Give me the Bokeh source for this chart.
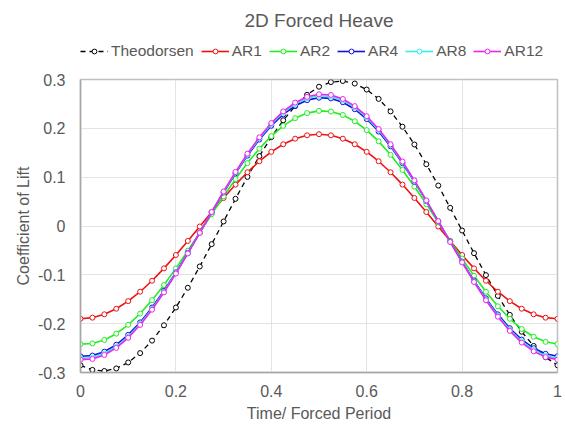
from bokeh.plotting import figure
from bokeh.layouts import column
from bokeh.models import Range1d, FixedTicker, Legend, LegendItem
from bokeh.embed import file_html
from bokeh.resources import INLINE

# ---------------- data ----------------
time = [0.0, 0.025, 0.05, 0.075, 0.1, 0.125, 0.15, 0.175, 0.2, 0.225,
        0.25, 0.275, 0.3, 0.325, 0.35, 0.375, 0.4, 0.425, 0.45, 0.475,
        0.5, 0.525, 0.55, 0.575, 0.6, 0.625, 0.65, 0.675, 0.7, 0.725,
        0.75, 0.775, 0.8, 0.825, 0.85, 0.875, 0.9, 0.925, 0.95, 0.975, 1.0]

theodorsen = [-0.2852, -0.2947, -0.2969, -0.2917, -0.2794, -0.2603, -0.2347, -0.2033, -0.1669, -0.1265,
              -0.0829, -0.0372, 0.0093, 0.0557, 0.1006, 0.1431, 0.1820, 0.2165, 0.2456, 0.2687,
              0.2852, 0.2947, 0.2969, 0.2917, 0.2794, 0.2603, 0.2347, 0.2033, 0.1669, 0.1265,
              0.0829, 0.0372, -0.0093, -0.0557, -0.1006, -0.1431, -0.1820, -0.2165, -0.2456, -0.2687,
              -0.2852]

ar1 = [-0.1900, -0.1877, -0.1808, -0.1694, -0.1539, -0.1346, -0.1121, -0.0868, -0.0594, -0.0306,
       -0.0010, 0.0286, 0.0574, 0.0848, 0.1101, 0.1326, 0.1519, 0.1674, 0.1788, 0.1857,
       0.1880, 0.1857, 0.1788, 0.1674, 0.1519, 0.1326, 0.1101, 0.0848, 0.0574, 0.0286,
       -0.0010, -0.0306, -0.0594, -0.0868, -0.1121, -0.1346, -0.1539, -0.1694, -0.1808, -0.1877,
       -0.1900]

ar2 = [-0.2418, -0.2405, -0.2333, -0.2205, -0.2023, -0.1793, -0.1518, -0.1208, -0.0868, -0.0507,
       -0.0135, 0.0240, 0.0608, 0.0960, 0.1288, 0.1584, 0.1840, 0.2050, 0.2208, 0.2312,
       0.2358, 0.2345, 0.2273, 0.2145, 0.1963, 0.1733, 0.1458, 0.1148, 0.0808, 0.0447,
       0.0075, -0.0300, -0.0668, -0.1020, -0.1348, -0.1644, -0.1900, -0.2110, -0.2268, -0.2372,
       -0.2418]

ar4 = [-0.2667, -0.2653, -0.2574, -0.2432, -0.2230, -0.1974, -0.1670, -0.1326, -0.0949, -0.0549,
       -0.0137, 0.0279, 0.0687, 0.1078, 0.1442, 0.1770, 0.2053, 0.2286, 0.2462, 0.2577,
       0.2627, 0.2613, 0.2534, 0.2392, 0.2190, 0.1934, 0.1630, 0.1286, 0.0909, 0.0509,
       0.0097, -0.0319, -0.0727, -0.1118, -0.1482, -0.1810, -0.2093, -0.2326, -0.2502, -0.2617,
       -0.2667]

ar8 = [-0.2707, -0.2693, -0.2612, -0.2468, -0.2264, -0.2004, -0.1695, -0.1345, -0.0963, -0.0557,
       -0.0138, 0.0284, 0.0698, 0.1095, 0.1464, 0.1797, 0.2085, 0.2321, 0.2499, 0.2616,
       0.2667, 0.2653, 0.2572, 0.2428, 0.2224, 0.1964, 0.1655, 0.1305, 0.0923, 0.0517,
       0.0098, -0.0324, -0.0738, -0.1135, -0.1504, -0.1837, -0.2125, -0.2361, -0.2539, -0.2656,
       -0.2707]

ar12 = [-0.2737, -0.2723, -0.2641, -0.2496, -0.2289, -0.2026, -0.1714, -0.1360, -0.0974, -0.0563,
        -0.0140, 0.0287, 0.0706, 0.1107, 0.1481, 0.1817, 0.2108, 0.2347, 0.2527, 0.2645,
        0.2697, 0.2683, 0.2601, 0.2455, 0.2249, 0.1986, 0.1674, 0.1320, 0.0934, 0.0523,
        0.0100, -0.0327, -0.0746, -0.1147, -0.1521, -0.1857, -0.2148, -0.2387, -0.2567, -0.2685,
        -0.2737]

series_names = ["Theodorsen", "AR1", "AR2", "AR4", "AR8", "AR12"]
series_values = [theodorsen, ar1, ar2, ar4, ar8, ar12]
series_colors = ["#000000", "#ee1111", "#22ee22", "#1111dd", "#33eeee", "#ee22ee"]

x_ticks = [0, 0.2, 0.4, 0.6, 0.8, 1]
x_tick_labels = ["0", "0.2", "0.4", "0.6", "0.8", "1"]
y_ticks = [-0.3, -0.2, -0.1, 0, 0.1, 0.2, 0.3]
y_tick_labels = ["-0.3", "-0.2", "-0.1", "0", "0.1", "0.2", "0.3"]

FONT = "Liberation Sans"
GREY = "#595959"
W = 563


def draw_series(fig, name, vals, col):
    dash = "5 4" if name == "Theodorsen" else "solid"
    lw = 1.3 if name == "Theodorsen" else 1.6
    rl = fig.line(time, vals, line_color=col, line_width=lw, line_dash=dash)
    rm = fig.scatter(time, vals, marker="circle", size=5, fill_color="white",
                     line_color=col, line_width=1)
    return rl, rm


# ---------- header figure: title + legend (frame aligned with the main plot) ----------
hf = figure(width=W, height=62, output_backend="svg", toolbar_location=None,
            x_range=Range1d(0, 1), y_range=Range1d(10, 11),
            x_axis_type=None, y_axis_type=None,
            min_border_left=80, min_border_right=6, min_border_top=34, min_border_bottom=0,
            outline_line_color=None, background_fill_color="white", border_fill_color="white")
hf.title.text = "2D Forced Heave"
hf.title.align = "center"
hf.title.offset = -36
hf.title.text_font = FONT
hf.title.text_font_size = "19px"
hf.title.text_font_style = "normal"
hf.title.text_color = GREY
hf.title.standoff = 7

items = []
for name, vals, col in zip(series_names, series_values, series_colors):
    rl, rm = draw_series(hf, name, vals, col)
    items.append(LegendItem(label=name, renderers=[rl, rm]))

legend = Legend(items=items, orientation="horizontal", location=(0, 2),
                glyph_width=28, glyph_height=12, label_standoff=3, spacing=7,
                label_text_font=FONT, label_text_font_size="15.5px", label_text_color=GREY,
                border_line_color=None, background_fill_alpha=0, padding=2, margin=0)
hf.add_layout(legend, "center")

# ---------- main figure ----------
p = figure(width=W, height=363, output_backend="svg", toolbar_location=None,
           x_range=Range1d(0, 1), y_range=Range1d(-0.3, 0.3),
           min_border_left=80, min_border_right=6, min_border_top=17, min_border_bottom=53,
           background_fill_color="white", border_fill_color="white")

p.outline_line_color = "#c0c0c0"
p.outline_line_width = 1.5

for ax in (p.xaxis[0], p.yaxis[0]):
    ax.major_tick_line_color = None
    ax.minor_tick_line_color = None
    ax.major_tick_out = 0
    ax.major_tick_in = 0
    ax.minor_tick_out = 0
    ax.axis_line_color = "#a6a6a6"
    ax.axis_line_width = 1.5
    ax.major_label_text_font = FONT
    ax.major_label_text_font_size = "16px"
    ax.major_label_text_color = GREY
    ax.axis_label_text_font = FONT
    ax.axis_label_text_font_size = "16px"
    ax.axis_label_text_font_style = "normal"
    ax.axis_label_text_color = GREY

p.xaxis.ticker = FixedTicker(ticks=x_ticks)
p.xaxis.major_label_overrides = dict(zip(x_ticks, x_tick_labels))
p.yaxis.ticker = FixedTicker(ticks=y_ticks)
p.yaxis.major_label_overrides = dict(zip(y_ticks, y_tick_labels))
p.xaxis.axis_label = "Time/ Forced Period"
p.yaxis.axis_label = "Coefficient of Lift"
p.xaxis.major_label_standoff = 12
p.yaxis.major_label_standoff = 15
p.xaxis.axis_label_standoff = 5
p.yaxis.axis_label_standoff = 3

p.xgrid.grid_line_color = "#e3e3e3"
p.ygrid.grid_line_color = "#e3e3e3"

for name, vals, col in zip(series_names, series_values, series_colors):
    draw_series(p, name, vals, col)

layout = column(hf, p, spacing=0)
open("out.html", "w").write(file_html(layout, INLINE))
